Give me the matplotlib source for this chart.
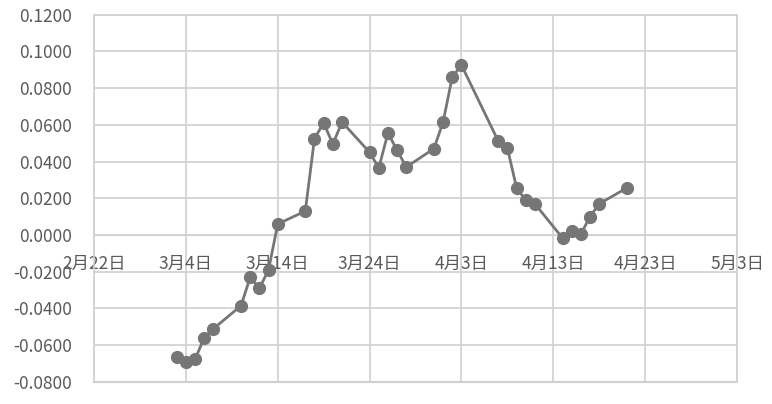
import matplotlib
matplotlib.use("Agg")
import matplotlib.pyplot as plt
import matplotlib.dates as mdates
import matplotlib.ticker as mticker
import numpy as np
import pandas as pd

# data
dates = [
    "2021-03-03", "2021-03-04", "2021-03-05", "2021-03-06", "2021-03-07",
    "2021-03-10", "2021-03-11", "2021-03-12", "2021-03-13", "2021-03-14",
    "2021-03-17", "2021-03-18", "2021-03-19", "2021-03-20", "2021-03-21",
    "2021-03-24", "2021-03-25", "2021-03-26", "2021-03-27", "2021-03-28",
    "2021-03-31", "2021-04-01", "2021-04-02", "2021-04-03", "2021-04-07",
    "2021-04-08", "2021-04-09", "2021-04-10", "2021-04-11", "2021-04-14",
    "2021-04-15", "2021-04-16", "2021-04-17", "2021-04-18", "2021-04-21",
]
values = [
    -0.0665, -0.0690, -0.0675, -0.0560, -0.0510,
    -0.0385, -0.0230, -0.0290, -0.0190, 0.0060,
    0.0130, 0.0525, 0.0610, 0.0495, 0.0615,
    0.0450, 0.0365, 0.0555, 0.0460, 0.0370,
    0.0470, 0.0615, 0.0860, 0.0925, 0.0512,
    0.0474, 0.0256, 0.0190, 0.0169, -0.0016,
    0.0020, 0.0005, 0.0100, 0.0170, 0.0256,
]
x_start = "2021-02-22"
x_end = "2021-05-03"
y_ticks = np.arange(-0.08, 0.1201, 0.02)

plt.rcParams["font.family"] = ["Noto Sans CJK SC", "DejaVu Sans"]

GRID = "#d0d0d0"
LINE = "#767676"
TEXT = "#595959"

x = pd.to_datetime(dates)

fig = plt.figure(figsize=(7.72, 4.04), dpi=100)
ax = fig.add_axes([0.1218, 0.0545, 0.8329, 0.9095])

ax.plot(x, values, color=LINE, linewidth=2.0, marker="o", markersize=8.5,
        markerfacecolor=LINE, markeredgecolor=LINE, zorder=3)

ax.set_xlim(pd.Timestamp(x_start), pd.Timestamp(x_end))
ax.set_ylim(-0.08, 0.12)
ax.set_yticks(y_ticks)
ax.yaxis.set_major_formatter(mticker.FormatStrFormatter("%.4f"))

ax.xaxis.set_major_locator(mticker.FixedLocator(
    mdates.date2num(pd.date_range(x_start, x_end, freq="10D"))))
ax.xaxis.set_major_formatter(mticker.FuncFormatter(
    lambda v, pos: "{}月{}日".format(mdates.num2date(v).month, mdates.num2date(v).day)))

# category labels sit on the zero line, like Excel
ax.spines["bottom"].set_position(("data", 0))
ax.spines["bottom"].set_color(GRID)
for side in ("left", "top", "right"):
    ax.spines[side].set_color(GRID)
    ax.spines[side].set_linewidth(1.2)

ax.grid(True, color=GRID, linewidth=1.2)
ax.set_axisbelow(True)
ax.tick_params(axis="both", length=0, labelsize=12.5, colors=TEXT)
ax.tick_params(axis="x", pad=14)
ax.tick_params(axis="y", pad=16)
ax.axhline(-0.08, color=GRID, linewidth=1.5, clip_on=False)

fig.savefig("out.png", dpi=100, facecolor="white")
